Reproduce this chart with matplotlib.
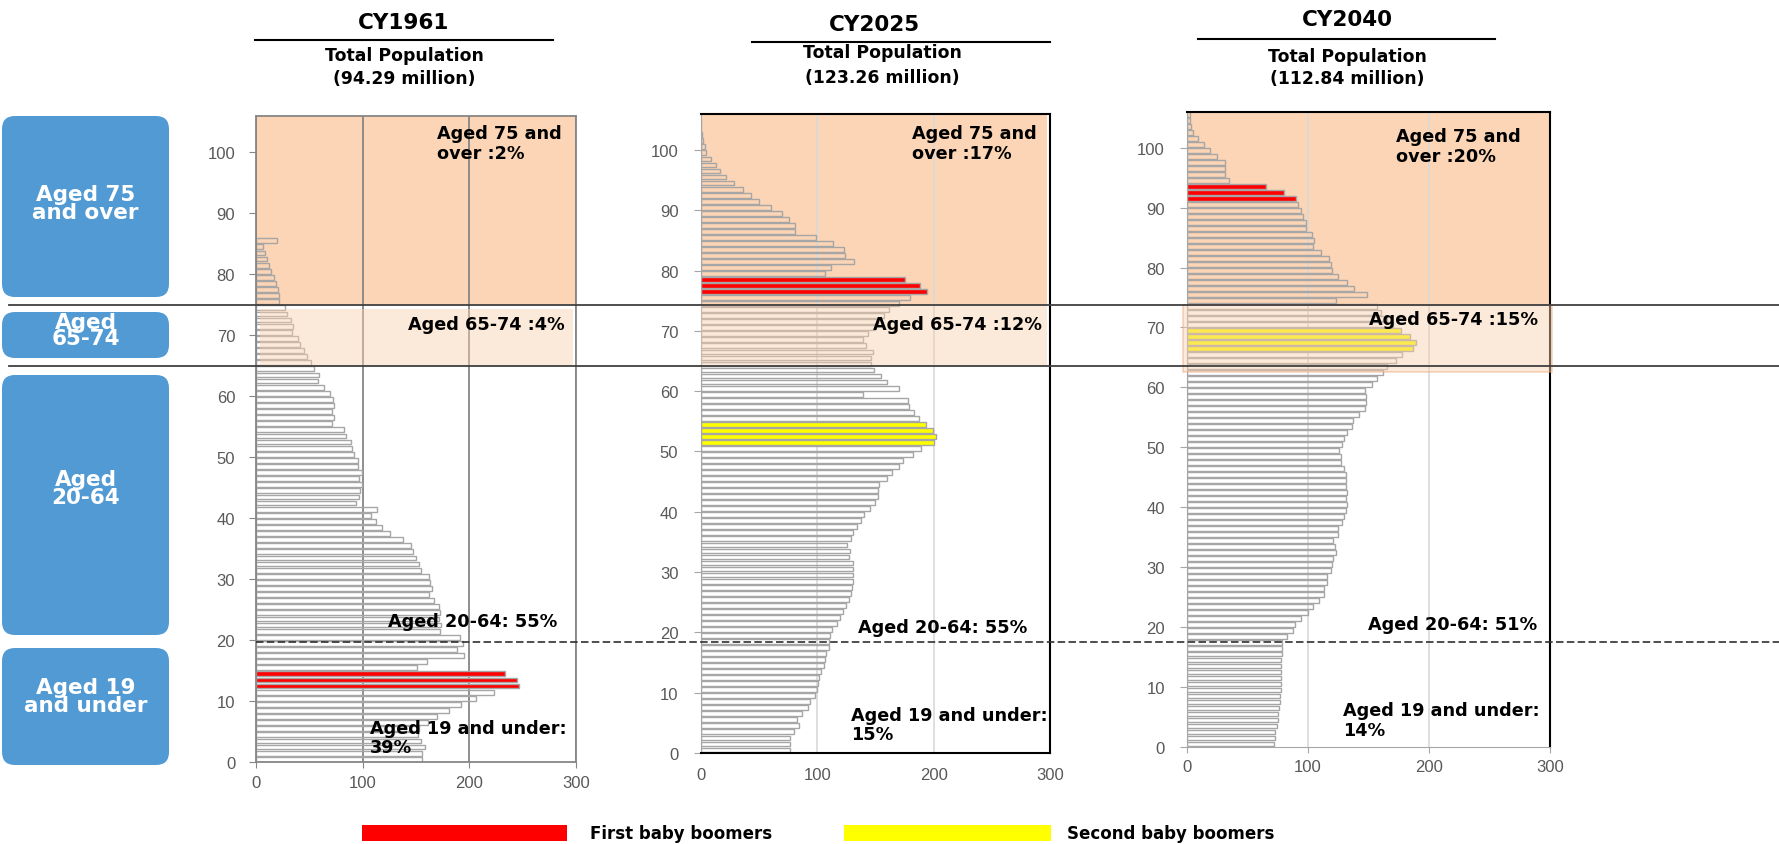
import numpy as np
import matplotlib
matplotlib.use("Agg")
import matplotlib.pyplot as plt
from matplotlib.patches import Rectangle, FancyBboxPatch
from matplotlib.lines import Line2D
from matplotlib.transforms import Affine2D

plt.rcParams['font.family'] = ['DejaVu Sans']

# population by single year of age (10 thousand people)
ages_1961 = np.arange(0, 86)
pop_1961 = [
    156, 156, 159, 155, 152, 153, 161, 170, 181, 192,
    206, 223, 247, 245, 234, 151, 160, 195, 189, 194,
    191, 173, 174, 172, 173, 172, 167, 162, 165, 163,
    162, 155, 153, 150, 147, 145, 138, 126, 118, 113,
    108, 114, 94, 97, 98, 99, 97, 99, 96, 96,
    92, 90, 89, 84, 83, 71, 73, 71, 73, 72,
    69, 64, 58, 59, 54, 52, 48, 45, 41, 39,
    34, 35, 33, 29, 27, 22, 22, 21, 19, 17,
    14, 12, 10, 8, 7, 20]

ages_2025 = np.arange(0, 105)
pop_2025 = [
    77, 77, 77, 80, 84, 83, 87, 92, 94, 98,
    100, 101, 102, 103, 106, 107, 108, 110, 110, 111,
    113, 117, 120, 122, 125, 127, 129, 130, 131, 131,
    131, 131, 127, 128, 126, 129, 131, 134, 138, 140,
    145, 150, 152, 152, 153, 160, 164, 170, 174, 182,
    189, 200, 202, 199, 193, 187, 183, 179, 178, 139,
    170, 160, 155, 149, 146, 146, 148, 142, 139, 144,
    150, 152, 157, 162, 170, 180, 194, 188, 175, 107,
    112, 132, 124, 123, 114, 99, 81, 81, 76, 70,
    60, 50, 43, 36, 29, 22, 17, 13, 9, 5,
    3.7, 2.3, 1.1, 0.6, 0.3]

ages_2040 = np.arange(0, 106)
pop_2040 = [
    72, 73, 73, 74, 75, 75.5, 76, 76.6, 77, 77.4,
    77.4, 77.7, 77.7, 78, 78, 78.2, 78.5, 78.8, 82.6, 87.6,
    89.5, 94.5, 100, 104, 109, 113, 113, 116, 116, 119,
    120, 121, 123, 122, 121, 125, 125, 128, 130, 131,
    132, 131, 132, 131, 131, 131, 130, 127, 127, 126,
    128, 130, 132, 136, 137, 142, 147, 148, 148, 147,
    153, 157, 162, 165, 173, 178, 187, 189, 184, 177,
    170, 165, 160, 157, 123, 149, 138, 132, 125, 120,
    119, 117, 111, 104, 105, 103, 98, 98, 96, 94,
    92, 90, 80, 65, 35, 31, 31, 31, 25, 19,
    14, 9.4, 4.7, 3.6, 2.5, 2.2]

# baby boomer cohorts
red_1961 = [12, 13, 14]
red_2025 = [76, 77, 78]
red_2040 = [91, 92, 93]
yellow_2025 = [51, 52, 53, 54]
yellow_2040 = [66, 67, 68, 69]

years = ["CY1961", "CY2025", "CY2040"]
totals = ["(94.29 million)", "(123.26 million)", "(112.84 million)"]
share_75 = ["2%", "17%", "20%"]
share_65 = ["4%", "12%", "15%"]
share_20 = ["55%", "55%", "51%"]
share_19 = ["39%", "15%", "14%"]

W, H = 1779, 845
RED = '#FF0000'
YELLOW = '#FFFF00'
PEACH = '#FBD5B5'
OVER = '#F8CFAE'
BLUE = '#519AD3'

fig = plt.figure(figsize=(W / 100, H / 100), dpi=100)
# pixel coords measured from the top-left corner
PX = Affine2D().scale(0.01, -0.01).translate(0, H / 100) + fig.dpi_scale_trans

panels = [
    dict(ages=ages_1961, pop=pop_1961, red=red_1961, yellow=[],
         box=(256, 116.7, 575.7, 763.3), kind=0,
         shade75=(256, 116.7, 575.7, 305.7), shade65=(260, 310, 573, 366.7),
         title=(404, 23), uline=(255, 553, 41), tot=(404, 56, 79),
         a75=(437, 144), a65=(408, 324.5), a20=(388, 622), a19=(370, 738.5)),
    dict(ages=ages_2025, pop=pop_2025, red=red_2025, yellow=yellow_2025,
         box=(700.6, 114.7, 1050.3, 754), kind=1,
         shade75=(700.6, 114.7, 1046.7, 305.7), shade65=(700.6, 305.7, 1046.7, 366.7),
         title=(874, 25), uline=(752, 1050, 43), tot=(882, 53, 78),
         a75=(912, 144), a65=(873, 325), a20=(858, 628), a19=(851, 725.5)),
    dict(ages=ages_2040, pop=pop_2040, red=red_2040, yellow=yellow_2040,
         box=(1187, 112.7, 1550, 748), kind=2,
         shade75=(1187, 112.7, 1550, 305.7), shade65=(1183, 305.7, 1551.7, 372.7),
         title=(1347, 20), uline=(1198, 1495, 40), tot=(1347, 57, 79),
         a75=(1396, 147), a65=(1369, 320), a20=(1368, 624.5), a19=(1343, 721)),
]

for i, p in enumerate(panels):
    l, t, r, b = p['box']
    ax = fig.add_axes([l / W, 1 - b / H, (r - l) / W, (b - t) / H])
    faces = []
    for a in p['ages']:
        if a in p['red']:
            faces.append(RED)
        elif a in p['yellow']:
            faces.append(YELLOW)
        else:
            faces.append('none')
    ax.barh(p['ages'] + 0.5, p['pop'], height=0.8, color=faces,
            edgecolor='#A6A6A6', linewidth=1.0, zorder=2)
    ax.set_xlim(0, 300)
    ax.set_ylim(0, 106)
    ax.set_xticks([0, 100, 200, 300])
    ax.set_yticks(range(0, 101, 10))
    ax.set_axisbelow(True)

    if p['kind'] == 0:
        ax.grid(axis='x', color='#868686', lw=1.3)
        for s in ax.spines.values():
            s.set_color('#868686')
            s.set_linewidth(1.3)
        ax.tick_params(axis='y', length=5, color='#868686', pad=10)
        ax.tick_params(axis='x', length=4, color='#868686', pad=5)
    else:
        ax.grid(axis='x', color='#D9D9D9', lw=1.2)
        for s in ['top', 'right']:
            ax.spines[s].set_color('black')
            ax.spines[s].set_linewidth(1.5)
        ax.spines['left'].set_color('#A6A6A6')
        if p['kind'] == 1:
            ax.spines['bottom'].set_color('black')
            ax.spines['bottom'].set_linewidth(1.5)
            ax.tick_params(axis='x', length=0, pad=10)
        else:
            ax.spines['bottom'].set_color('#A6A6A6')
            ax.tick_params(axis='x', length=4, color='#A6A6A6', pad=5)
        ax.tick_params(axis='y', length=5, color='#A6A6A6', pad=11)
    ax.tick_params(labelsize=12, labelcolor='#595959')
    for lbl in ax.get_xticklabels() + ax.get_yticklabels():
        lbl.set_fontfamily('Liberation Sans')

    # aged 75+ band behind the bars, aged 65-74 band over them
    x0, y0, x1, y1 = p['shade75']
    ax.add_patch(Rectangle((x0, y0), x1 - x0, y1 - y0, transform=PX,
                           facecolor=PEACH, edgecolor='none', zorder=0.2))
    x0, y0, x1, y1 = p['shade65']
    ax.add_patch(Rectangle((x0, y0), x1 - x0, y1 - y0, transform=PX,
                           facecolor=OVER, alpha=0.46,
                           edgecolor='#E9A57A' if p['kind'] == 2 else 'none',
                           lw=1.2, zorder=3, clip_on=False))

    # headers
    tx, ty = p['title']
    fig.text(tx, ty, years[i], transform=PX, ha='center', va='center',
             fontsize=15.5, fontweight='bold')
    ux0, ux1, uy = p['uline']
    fig.add_artist(Line2D([ux0, ux1], [uy, uy], transform=PX, color='black', lw=1.5))
    cx, y_a, y_b = p['tot']
    fig.text(cx, y_a, "Total Population", transform=PX, ha='center', va='center',
             fontsize=12.4, fontweight='bold')
    fig.text(cx, y_b, totals[i], transform=PX, ha='center', va='center',
             fontsize=12.4, fontweight='bold')

    # share labels
    kw = dict(transform=PX, ha='left', va='center', fontsize=12.7,
              fontweight='bold', linespacing=1.1, zorder=6)
    fig.text(*p['a75'], f"Aged 75 and\nover :{share_75[i]}", **kw)
    fig.text(*p['a65'], f"Aged 65-74 :{share_65[i]}", **kw)
    fig.text(*p['a20'], f"Aged 20-64: {share_20[i]}", **kw)
    fig.text(*p['a19'], f"Aged 19 and under:\n{share_19[i]}", **kw)

# age group separators
fig.add_artist(Line2D([9, W], [305.7, 305.7], transform=PX, color='#404040', lw=1.3))
fig.add_artist(Line2D([9, W], [366.7, 366.7], transform=PX, color='#404040', lw=1.3))
fig.add_artist(Line2D([256, W], [643.3, 643.3], transform=PX, color='#303030', lw=1.2,
                      linestyle=(0, (4.5, 2))))

# left-hand group boxes
boxes = [(117, 298, "Aged 75\nand over", 204, 0.88),
         (313, 359, "Aged\n65-74", 331, 0.8),
         (376, 636, "Aged\n20-64", 489, 0.88),
         (649, 766, "Aged 19\nand under", 697, 0.88)]
for y0, y1, txt, yc, ls in boxes:
    fig.add_artist(FancyBboxPatch((2, y0), 167, y1 - y0,
                                  boxstyle="round,pad=0,rounding_size=13",
                                  transform=PX, facecolor=BLUE, edgecolor='none'))
    fig.text(85.5, yc, txt, transform=PX, ha='center', va='center', color='white',
             fontsize=15.5, fontweight='bold', linespacing=ls)

# legend
fig.add_artist(Rectangle((362, 826), 205, 16, transform=PX, facecolor=RED, edgecolor='none'))
fig.text(590, 834, "First baby boomers", transform=PX, ha='left', va='center',
         fontsize=12, fontweight='bold')
fig.add_artist(Rectangle((844, 826), 207, 16, transform=PX, facecolor=YELLOW, edgecolor='none'))
fig.text(1067, 834, "Second baby boomers", transform=PX, ha='left', va='center',
         fontsize=12, fontweight='bold')

fig.savefig("out.png", dpi=100)
